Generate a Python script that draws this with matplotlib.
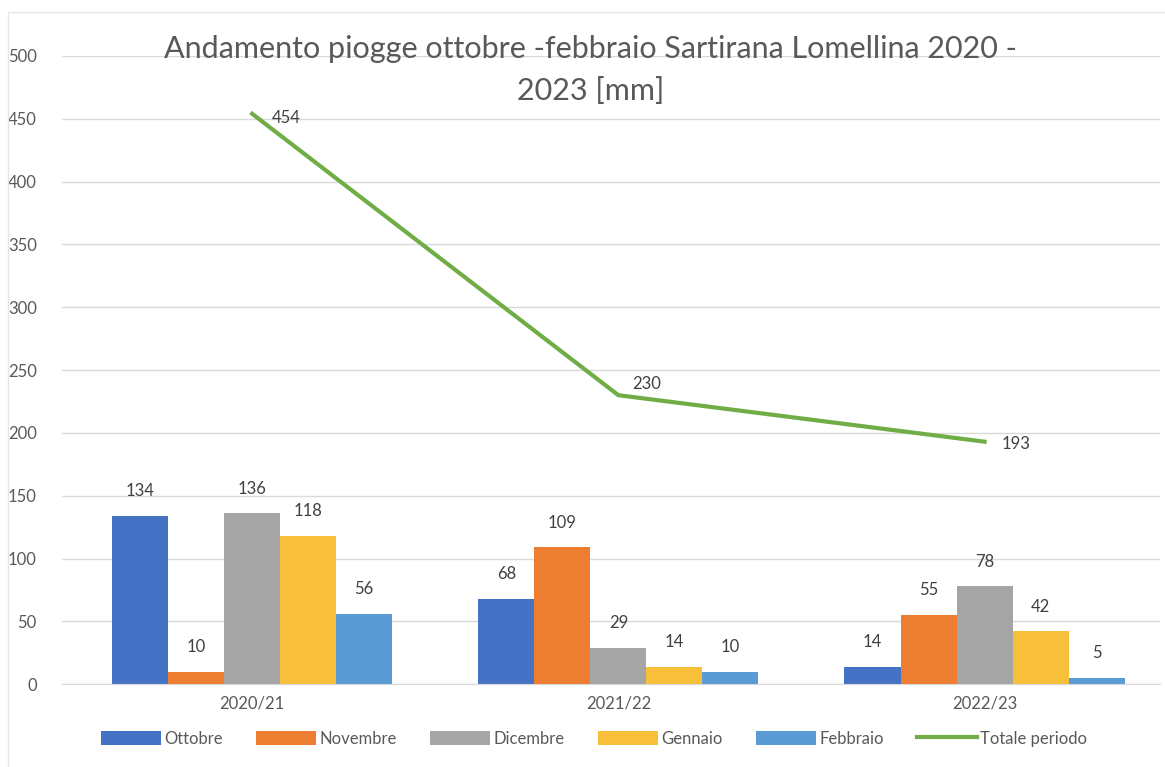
import numpy as np
import matplotlib.pyplot as plt
from matplotlib.patches import Rectangle

plt.rcParams['font.family'] = ['Lato', 'DejaVu Sans']

# dati
stagioni = ['2020/21', '2021/22', '2022/23']
mesi = ['Ottobre', 'Novembre', 'Dicembre', 'Gennaio', 'Febbraio']
ottobre = [134, 68, 14]
novembre = [10, 109, 55]
dicembre = [136, 29, 78]
gennaio = [118, 14, 42]
febbraio = [56, 10, 5]
totale = [454, 230, 193]

colori = ['#4472C4', '#ED7D31', '#A5A5A5', '#F7BF3A', '#5B9BD5']
verde = '#70AD47'
grigio = '#595959'

serie = [ottobre, novembre, dicembre, gennaio, febbraio]

fig = plt.figure(figsize=(11.65, 7.67), dpi=100)
ax = fig.add_axes([0.053, 0.108, 0.943, 0.819])

x = np.arange(len(stagioni))
w = 0.153
for i, (vals, nome) in enumerate(zip(serie, mesi)):
    pos = x + (i - 2) * w
    bars = ax.bar(pos, vals, w, color=colori[i], label=nome, zorder=2)
    for b, v in zip(bars, vals):
        ax.annotate(str(v), (b.get_x() + w / 2, v), xytext=(0, 12),
                    textcoords='offset points', ha='center', va='bottom',
                    fontsize=12, color='#404040')

ax.plot(x, totale, color=verde, lw=3, label='Totale periodo', zorder=3)
offs = [(14, -3), (10, 8), (12, -2)]
for xi, v, o in zip(x, totale, offs):
    ax.annotate(str(v), (xi, v), xytext=o, textcoords='offset points',
                ha='left', va='center', fontsize=12, color='#404040')

ax.set_xlim(-0.52, 2.48)
ax.set_ylim(0, 500)
ax.set_yticks(range(0, 501, 50))
ax.set_xticks(x)
ax.set_xticklabels(stagioni)
ax.tick_params(axis='both', length=0, labelsize=12, labelcolor=grigio)
ax.tick_params(axis='y', pad=18)
ax.tick_params(axis='x', pad=8)
ax.grid(axis='y', color='#D9D9D9', lw=1, zorder=0)
for s in ax.spines.values():
    s.set_visible(False)
ax.spines['bottom'].set_visible(True)
ax.spines['bottom'].set_color('#D9D9D9')

fig.text(0.507, 0.955, 'Andamento piogge ottobre -febbraio Sartirana Lomellina 2020 -',
         ha='center', va='top', fontsize=22, color=grigio)
fig.text(0.507, 0.899, '2023 [mm]', ha='center', va='top', fontsize=22, color=grigio)

h, l = ax.get_legend_handles_labels()
ordine = [1, 2, 3, 4, 5, 0]
leg = fig.legend([h[k] for k in ordine], [l[k] for k in ordine],
                 loc='center', bbox_to_anchor=(0.51, 0.037), ncol=6, frameon=False,
                 fontsize=12, handlelength=3.6, handleheight=0.9, columnspacing=2.0,
                 handletextpad=0.2)
for t in leg.get_texts():
    t.set_color(grigio)

# cornice del grafico
fig.patches.append(Rectangle((0.007, -0.01), 1.0, 0.995, transform=fig.transFigure,
                             fill=False, edgecolor='#E6E6E6', lw=1))

fig.savefig('out.png', dpi=100)
